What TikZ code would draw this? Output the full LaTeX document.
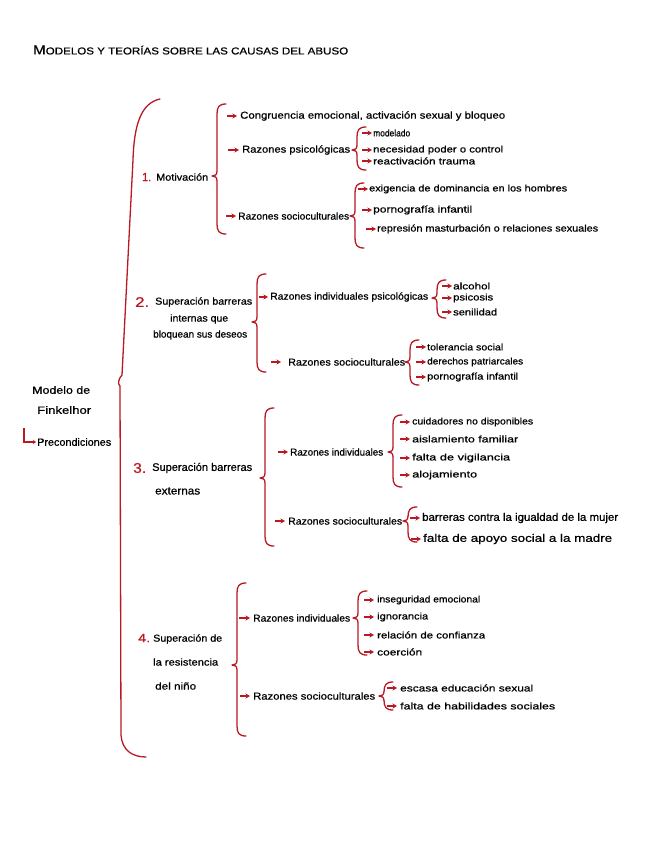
\documentclass[tikz,border=0pt]{standalone}
\usepackage{fontspec}
\setmainfont{Liberation Sans}[FakeBold=0.7]
\usetikzlibrary{arrows.meta}
\definecolor{bred}{RGB}{185,25,35}
\newcommand\fw[2]{\resizebox{#1pt}{\height}{#2}}
\newcommand\mybrace[4]{%
 \draw[brc] ({#1+9},#2) .. controls ({#1+2},#2) and (#1,{#2+3}) .. (#1,{#2+10})
   -- (#1,{#3-5}) .. controls (#1,{#3-1}) and ({#1-2},#3) .. ({#1-5},#3)
   .. controls ({#1-2},#3) and (#1,{#3+1}) .. (#1,{#3+5})
   -- (#1,{#4-10}) .. controls (#1,{#4-3}) and ({#1+2},#4) .. ({#1+9},#4);}
\begin{document}
\begin{tikzpicture}[x=1pt,y=-1pt,
 lbl/.style={anchor=west,inner sep=0pt,font=\fontsize{10}{12}\selectfont},
 leaf/.style={anchor=west,inner sep=0pt,font=\fontsize{9.5}{12}\selectfont},
 num/.style={anchor=west,inner sep=0pt,text=bred,font=\fontsize{12}{12}\selectfont},
 arr/.style={bred,line width=1.3pt,-{Stealth[length=4.5pt,width=5pt]}},
 brc/.style={bred,line width=1.3pt,line cap=round,line join=round}]
\useasboundingbox (0,0) rectangle (656,848);

% title
\node[anchor=west,inner sep=0pt,font=\fontsize{10}{12}\selectfont] (title) at (33,50)
  {\fw{315}{{\fontsize{13}{12}\selectfont M}ODELOS Y TEORÍAS SOBRE LAS CAUSAS DEL ABUSO}};

% root
\node[lbl,font=\fontsize{10.5}{12}\selectfont] (root) at (32,390) {\fw{58}{Modelo de}};
\node[lbl,font=\fontsize{10.5}{12}\selectfont] (rootb) at (37,410) {\fw{54}{Finkelhor}};
\node[lbl,font=\fontsize{10.5}{12}\selectfont] (precond) at (37,442) {\fw{74}{Precondiciones}};
\coordinate (lstart) at (24,428);
\draw[bred,line width=1.5pt,-{Stealth[length=3pt,width=4pt]}] (lstart) |- ([xshift=-1pt]precond.west);

% root bracket
\draw[brc] (160,99) .. controls (141,103) and (134,125) .. (133,160)
  -- (122,375) .. controls (119,378) and (117,384) .. (120,386)
  -- (121,735) .. controls (122,750) and (132,757) .. (146,757);

% ---------- 1
\node[num] (n1num) at (142,177) {\fw{9}{1.}};
\node[lbl] (n1) at (156,177) {\fw{52}{Motivación}};
\mybrace{217}{104}{176}{234}
\node[lbl] (c11) at (240,116) {\fw{265}{Congruencia emocional, activación sexual y bloqueo}};
\draw[arr] ([xshift=-13pt]c11.west) -- ([xshift=-3pt]c11.west);
\node[lbl] (c12) at (242,150) {\fw{108}{Razones psicológicas}};
\draw[arr] ([xshift=-14pt]c12.west) -- ([xshift=-3pt]c12.west);
\node[lbl] (c13) at (238,216) {\fw{111}{Razones socioculturales}};
\draw[arr] ([xshift=-12pt]c13.west) -- ([xshift=-2pt]c13.west);

\mybrace{357}{127}{150}{170}
\node[leaf] (l111) at (373,133) {\fw{37}{modelado}};
\node[leaf] (l112) at (373,150) {\fw{130}{necesidad poder o control}};
\node[leaf] (l113) at (373,161) {\fw{102}{reactivación trauma}};
\foreach \n in {l111,l112,l113} \draw[arr] ([xshift=-11pt]\n.west) -- ([xshift=-1pt]\n.west);

\mybrace{355}{183}{216}{248}
\node[leaf] (l121) at (369,189) {\fw{198}{exigencia de dominancia en los hombres}};
\node[leaf] (l122) at (373,210) {\fw{99}{pornografía infantil}};
\node[leaf] (l123) at (377,229) {\fw{221}{represión masturbación o relaciones sexuales}};
\foreach \n in {l121,l122,l123} \draw[arr] ([xshift=-11pt]\n.west) -- ([xshift=-1pt]\n.west);

% ---------- 2
\node[num,font=\fontsize{14}{12}\selectfont] (n2num) at (135,302) {\fw{14}{2.}};
\node[lbl] (n2) at (155,302) {\fw{97}{Superación barreras}};
\node[lbl] (n2b) at (170,319) {\fw{58}{internas que}};
\node[lbl] (n2c) at (153,335) {\fw{94}{bloquean sus deseos}};
\mybrace{257}{274}{322}{372}
\node[lbl] (c21) at (270,297) {\fw{158}{Razones individuales psicológicas}};
\draw[arr] ([xshift=-11pt]c21.west) -- ([xshift=-2pt]c21.west);
\node[lbl] (c22) at (288,362) {\fw{117}{Razones socioculturales}};
\draw[arr] ([xshift=-17pt]c22.west) -- ([xshift=-7pt]c22.west);

\mybrace{437}{280}{298}{318}
\node[leaf] (l211) at (453,286) {\fw{37}{alcohol}};
\node[leaf] (l212) at (453,298) {\fw{40}{psicosis}};
\node[leaf] (l213) at (453,312) {\fw{44}{senilidad}};
\foreach \n in {l211,l212,l213} \draw[arr] ([xshift=-11pt]\n.west) -- ([xshift=-1pt]\n.west);

\mybrace{410}{340}{362}{385}
\node[leaf] (l221) at (427,347) {\fw{76}{tolerancia social}};
\node[leaf] (l222) at (427,362) {\fw{96}{derechos patriarcales}};
\node[leaf] (l223) at (427,377) {\fw{91}{pornografía infantil}};
\foreach \n in {l221,l222,l223} \draw[arr] ([xshift=-11pt]\n.west) -- ([xshift=-1pt]\n.west);

% ---------- 3
\node[num,font=\fontsize{14}{12}\selectfont] (n3num) at (133,468) {\fw{13}{3.}};
\node[lbl,font=\fontsize{11}{12}\selectfont] (n3) at (152,468) {\fw{100}{Superación barreras}};
\node[lbl,font=\fontsize{11}{12}\selectfont] (n3b) at (155,491) {\fw{45}{externas}};
\mybrace{265}{408}{478}{546}
\node[lbl] (c31) at (290,452) {\fw{93}{Razones individuales}};
\draw[arr] ([xshift=-12pt]c31.west) -- ([xshift=-2pt]c31.west);
\node[lbl] (c32) at (288,521) {\fw{114}{Razones socioculturales}};
\draw[arr] ([xshift=-13pt]c32.west) -- ([xshift=-3pt]c32.west);

\mybrace{393}{415}{452}{487}
\node[leaf] (l311) at (412,422) {\fw{121}{cuidadores no disponibles}};
\node[leaf] (l312) at (412,439) {\fw{106}{aislamiento familiar}};
\node[leaf] (l313) at (412,458) {\fw{98}{falta de vigilancia}};
\node[leaf] (l314) at (412,475) {\fw{65}{alojamiento}};
\foreach \n in {l311,l312,l313,l314} \draw[arr] ([xshift=-12pt]\n.west) -- ([xshift=-2pt]\n.west);

\mybrace{408}{507}{521}{542}
\node[leaf,font=\fontsize{11}{12}\selectfont] (l321) at (422,518) {\fw{196}{barreras contra la igualdad de la mujer}};
\node[leaf,font=\fontsize{11}{12}\selectfont] (l322) at (423,539) {\fw{189}{falta de apoyo social a la madre}};
\foreach \n in {l321,l322} \draw[arr] ([xshift=-12pt]\n.west) -- ([xshift=-2pt]\n.west);

% ---------- 4
\node[num] (n4num) at (138,638) {\fw{12}{4.}};
\node[lbl] (n4) at (153,639) {\fw{69}{Superación de}};
\node[lbl] (n4b) at (153,662) {\fw{65}{la resistencia}};
\node[lbl] (n4c) at (155,686) {\fw{41}{del niño}};
\mybrace{237}{583}{665}{736}
\node[lbl] (c41) at (253,618) {\fw{97}{Razones individuales}};
\draw[arr] ([xshift=-14pt]c41.west) -- ([xshift=-3pt]c41.west);
\node[lbl] (c42) at (253,696) {\fw{122}{Razones socioculturales}};
\draw[arr] ([xshift=-13pt]c42.west) -- ([xshift=-3pt]c42.west);

\mybrace{358}{591}{618}{655}
\node[leaf] (l411) at (377,600) {\fw{103}{inseguridad emocional}};
\node[leaf] (l412) at (377,617) {\fw{51}{ignorancia}};
\node[leaf] (l413) at (377,635) {\fw{108}{relación de confianza}};
\node[leaf] (l414) at (377,652) {\fw{45}{coerción}};
\foreach \n in {l411,l412,l413,l414} \draw[arr] ([xshift=-13pt]\n.west) -- ([xshift=-3pt]\n.west);

\mybrace{384}{682}{696}{710}
\node[leaf] (l421) at (400,688) {\fw{133}{escasa educación sexual}};
\node[leaf] (l422) at (400,706) {\fw{155}{falta de habilidades sociales}};
\foreach \n in {l421,l422} \draw[arr] ([xshift=-13pt]\n.west) -- ([xshift=-3pt]\n.west);
\end{tikzpicture}
\end{document}
